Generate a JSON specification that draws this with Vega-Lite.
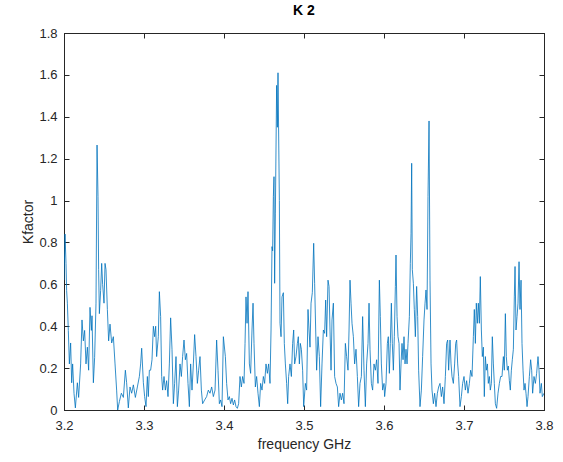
{
  "$schema": "https://vega.github.io/schema/vega-lite/v6.json",
  "width": 480,
  "height": 377,
  "autosize": {"type": "none"},
  "padding": {"left": 64, "top": 33, "right": 19, "bottom": 52},
  "background": "white",
  "title": {"text": "K 2", "fontSize": 14, "fontWeight": "bold", "font": "Liberation Sans", "color": "#000000", "offset": 9},
  "config": {
    "view": {"stroke": "#262626", "strokeWidth": 1},
    "axis": {"grid": false, "labelFlush": false, "labelOverlap": false, "labelFont": "Liberation Sans", "titleFont": "Liberation Sans", "labelFontSize": 13, "titleFontSize": 14, "titleFontWeight": "normal", "labelColor": "#262626", "titleColor": "#262626", "domainColor": "#262626", "tickColor": "#262626", "tickSize": -5}
  },
  "data": {"values": [
{"f":3.2000,"k":0.62},{"f":3.2013,"k":0.84},{"f":3.2025,"k":0.70},{"f":3.2033,"k":0.57},{"f":3.2042,"k":0.51},{"f":3.2054,"k":0.38},{"f":3.2067,"k":0.22},{"f":3.2083,"k":0.32},{"f":3.2096,"k":0.13},{"f":3.2108,"k":0.22},{"f":3.2125,"k":0.08},{"f":3.2142,"k":0.01},{"f":3.2167,"k":0.13},{"f":3.2183,"k":0.06},{"f":3.2208,"k":0.22},{"f":3.2225,"k":0.43},{"f":3.2242,"k":0.33},{"f":3.2258,"k":0.38},{"f":3.2275,"k":0.22},{"f":3.2292,"k":0.30},{"f":3.2308,"k":0.19},{"f":3.2325,"k":0.49},{"f":3.2342,"k":0.38},{"f":3.2350,"k":0.45},{"f":3.2367,"k":0.13},{"f":3.2383,"k":0.25},{"f":3.2400,"k":0.51},{"f":3.2413,"k":1.265},{"f":3.2425,"k":1.02},{"f":3.2433,"k":0.67},{"f":3.2442,"k":0.46},{"f":3.2458,"k":0.57},{"f":3.2471,"k":0.70},{"f":3.2483,"k":0.60},{"f":3.2500,"k":0.51},{"f":3.2513,"k":0.70},{"f":3.2525,"k":0.67},{"f":3.2542,"k":0.48},{"f":3.2558,"k":0.33},{"f":3.2575,"k":0.41},{"f":3.2596,"k":0.32},{"f":3.2617,"k":0.35},{"f":3.2638,"k":0.22},{"f":3.2658,"k":0.095},{"f":3.2671,"k":0.0},{"f":3.2692,"k":0.04},{"f":3.2717,"k":0.08},{"f":3.2742,"k":0.06},{"f":3.2767,"k":0.19},{"f":3.2783,"k":0.13},{"f":3.2804,"k":0.01},{"f":3.2825,"k":0.11},{"f":3.2846,"k":0.08},{"f":3.2867,"k":0.12},{"f":3.2892,"k":0.06},{"f":3.2917,"k":0.11},{"f":3.2942,"k":0.16},{"f":3.2958,"k":0.22},{"f":3.2971,"k":0.295},{"f":3.2992,"k":0.13},
{"f":3.3008,"k":0.064},{"f":3.3025,"k":0.016},{"f":3.3042,"k":0.16},{"f":3.3054,"k":0.064},{"f":3.3067,"k":0.19},{"f":3.3083,"k":0.19},{"f":3.3100,"k":0.24},{"f":3.3117,"k":0.40},{"f":3.3133,"k":0.35},{"f":3.3146,"k":0.40},{"f":3.3158,"k":0.255},{"f":3.3179,"k":0.35},{"f":3.3192,"k":0.565},{"f":3.3208,"k":0.446},{"f":3.3221,"k":0.16},{"f":3.3233,"k":0.095},{"f":3.3250,"k":0.16},{"f":3.3267,"k":0.095},{"f":3.3283,"k":0.14},{"f":3.3300,"k":0.064},{"f":3.3317,"k":0.22},{"f":3.3333,"k":0.44},{"f":3.3350,"k":0.29},{"f":3.3367,"k":0.03},{"f":3.3383,"k":0.127},{"f":3.3400,"k":0.255},{"f":3.3417,"k":0.016},{"f":3.3433,"k":0.095},{"f":3.3450,"k":0.22},{"f":3.3467,"k":0.16},{"f":3.3483,"k":0.255},{"f":3.3500,"k":0.334},{"f":3.3517,"k":0.24},{"f":3.3533,"k":0.27},{"f":3.3550,"k":0.127},{"f":3.3567,"k":0.016},{"f":3.3583,"k":0.22},{"f":3.3600,"k":0.095},{"f":3.3617,"k":0.22},{"f":3.3633,"k":0.36},{"f":3.3650,"k":0.255},{"f":3.3667,"k":0.127},{"f":3.3683,"k":0.19},{"f":3.3700,"k":0.255},{"f":3.3717,"k":0.095},{"f":3.3733,"k":0.03},{"f":3.3758,"k":0.048},{"f":3.3783,"k":0.064},{"f":3.3804,"k":0.095},{"f":3.3825,"k":0.08},{"f":3.3846,"k":0.11},{"f":3.3867,"k":0.064},{"f":3.3888,"k":0.095},{"f":3.3908,"k":0.334},{"f":3.3925,"k":0.19},{"f":3.3942,"k":0.03},{"f":3.3958,"k":0.048},{"f":3.3975,"k":0.016},{"f":3.3992,"k":0.35},
{"f":3.4017,"k":0.255},{"f":3.4033,"k":0.127},{"f":3.4050,"k":0.048},{"f":3.4067,"k":0.064},{"f":3.4083,"k":0.03},{"f":3.4100,"k":0.056},{"f":3.4117,"k":0.024},{"f":3.4133,"k":0.048},{"f":3.4150,"k":0.016},{"f":3.4167,"k":0.008},{"f":3.4183,"k":0.03},{"f":3.4200,"k":0.16},{"f":3.4217,"k":0.11},{"f":3.4233,"k":0.16},{"f":3.4250,"k":0.127},{"f":3.4263,"k":0.318},{"f":3.4275,"k":0.54},{"f":3.4288,"k":0.414},{"f":3.4300,"k":0.565},{"f":3.4317,"k":0.22},{"f":3.4333,"k":0.175},{"f":3.4350,"k":0.382},{"f":3.4363,"k":0.51},{"f":3.4375,"k":0.318},{"f":3.4392,"k":0.11},{"f":3.4408,"k":0.16},{"f":3.4425,"k":0.08},{"f":3.4442,"k":0.016},{"f":3.4458,"k":0.127},{"f":3.4475,"k":0.095},{"f":3.4492,"k":0.16},{"f":3.4508,"k":0.127},{"f":3.4525,"k":0.22},{"f":3.4542,"k":0.175},{"f":3.4558,"k":0.22},{"f":3.4575,"k":0.127},{"f":3.4588,"k":0.382},{"f":3.4600,"k":0.78},{"f":3.4608,"k":0.76},{"f":3.4617,"k":1.02},{"f":3.4625,"k":1.114},{"f":3.4633,"k":0.605},{"f":3.4642,"k":0.94},{"f":3.4658,"k":1.55},{"f":3.4667,"k":1.35},{"f":3.4675,"k":1.61},{"f":3.4692,"k":1.0},{"f":3.4700,"k":0.414},{"f":3.4713,"k":0.35},{"f":3.4725,"k":0.54},{"f":3.4742,"k":0.56},{"f":3.4754,"k":0.318},{"f":3.4767,"k":0.22},{"f":3.4783,"k":0.127},{"f":3.4796,"k":0.03},{"f":3.4808,"k":0.16},{"f":3.4825,"k":0.22},{"f":3.4842,"k":0.16},{"f":3.4858,"k":0.318},{"f":3.4871,"k":0.382},{"f":3.4883,"k":0.22},{"f":3.4900,"k":0.255},{"f":3.4917,"k":0.318},{"f":3.4929,"k":0.35},{"f":3.4942,"k":0.22},{"f":3.4954,"k":0.318},{"f":3.4967,"k":0.29},{"f":3.4983,"k":0.19},{"f":3.4996,"k":0.016},
{"f":3.5017,"k":0.127},{"f":3.5033,"k":0.095},{"f":3.5050,"k":0.48},{"f":3.5063,"k":0.382},{"f":3.5075,"k":0.30},{"f":3.5088,"k":0.51},{"f":3.5104,"k":0.56},{"f":3.5121,"k":0.796},{"f":3.5133,"k":0.605},{"f":3.5146,"k":0.382},{"f":3.5158,"k":0.19},{"f":3.5175,"k":0.35},{"f":3.5192,"k":0.255},{"f":3.5208,"k":0.016},{"f":3.5225,"k":0.22},{"f":3.5242,"k":0.382},{"f":3.5258,"k":0.366},{"f":3.5271,"k":0.525},{"f":3.5283,"k":0.35},{"f":3.5300,"k":0.62},{"f":3.5313,"k":0.59},{"f":3.5325,"k":0.382},{"f":3.5338,"k":0.19},{"f":3.5350,"k":0.43},{"f":3.5367,"k":0.51},{"f":3.5383,"k":0.16},{"f":3.5400,"k":0.127},{"f":3.5417,"k":0.11},{"f":3.5433,"k":0.016},{"f":3.5450,"k":0.08},{"f":3.5467,"k":0.048},{"f":3.5483,"k":0.08},{"f":3.5500,"k":0.03},{"f":3.5517,"k":0.318},{"f":3.5533,"k":0.255},{"f":3.5550,"k":0.19},{"f":3.5563,"k":0.382},{"f":3.5575,"k":0.62},{"f":3.5588,"k":0.51},{"f":3.5600,"k":0.414},{"f":3.5617,"k":0.35},{"f":3.5633,"k":0.22},{"f":3.5650,"k":0.29},{"f":3.5667,"k":0.16},{"f":3.5683,"k":0.016},{"f":3.5700,"k":0.127},{"f":3.5717,"k":0.16},{"f":3.5733,"k":0.446},{"f":3.5750,"k":0.19},{"f":3.5767,"k":0.016},{"f":3.5783,"k":0.22},{"f":3.5800,"k":0.318},{"f":3.5813,"k":0.51},{"f":3.5825,"k":0.29},{"f":3.5842,"k":0.127},{"f":3.5858,"k":0.095},{"f":3.5875,"k":0.22},{"f":3.5892,"k":0.19},{"f":3.5908,"k":0.24},{"f":3.5925,"k":0.127},{"f":3.5942,"k":0.62},{"f":3.5954,"k":0.446},{"f":3.5967,"k":0.22},{"f":3.5983,"k":0.095},{"f":3.6000,"k":0.127},
{"f":3.6008,"k":0.064},{"f":3.6025,"k":0.127},{"f":3.6042,"k":0.318},{"f":3.6054,"k":0.35},{"f":3.6067,"k":0.175},{"f":3.6079,"k":0.318},{"f":3.6092,"k":0.51},{"f":3.6104,"k":0.318},{"f":3.6117,"k":0.19},{"f":3.6129,"k":0.35},{"f":3.6142,"k":0.59},{"f":3.6150,"k":0.74},{"f":3.6163,"k":0.446},{"f":3.6175,"k":0.35},{"f":3.6188,"k":0.318},{"f":3.6200,"k":0.095},{"f":3.6213,"k":0.22},{"f":3.6225,"k":0.318},{"f":3.6238,"k":0.24},{"f":3.6250,"k":0.35},{"f":3.6263,"k":0.22},{"f":3.6275,"k":0.29},{"f":3.6288,"k":0.22},{"f":3.6300,"k":0.318},{"f":3.6317,"k":0.446},{"f":3.6329,"k":0.70},{"f":3.6338,"k":0.844},{"f":3.6346,"k":1.178},{"f":3.6354,"k":0.67},{"f":3.6367,"k":0.605},{"f":3.6379,"k":0.48},{"f":3.6392,"k":0.35},{"f":3.6408,"k":0.59},{"f":3.6421,"k":0.446},{"f":3.6433,"k":0.19},{"f":3.6450,"k":0.016},{"f":3.6467,"k":0.095},{"f":3.6483,"k":0.255},{"f":3.6500,"k":0.43},{"f":3.6513,"k":0.51},{"f":3.6525,"k":0.573},{"f":3.6538,"k":0.48},{"f":3.6550,"k":1.02},{"f":3.6563,"k":1.38},{"f":3.6575,"k":0.62},{"f":3.6588,"k":0.22},{"f":3.6600,"k":0.095},{"f":3.6617,"k":0.03},{"f":3.6633,"k":0.08},{"f":3.6650,"k":0.016},{"f":3.6667,"k":0.08},{"f":3.6683,"k":0.11},{"f":3.6700,"k":0.127},{"f":3.6717,"k":0.064},{"f":3.6733,"k":0.11},{"f":3.6750,"k":0.03},{"f":3.6767,"k":0.16},{"f":3.6783,"k":0.318},{"f":3.6796,"k":0.334},{"f":3.6808,"k":0.19},{"f":3.6825,"k":0.334},{"f":3.6838,"k":0.22},{"f":3.6850,"k":0.16},{"f":3.6867,"k":0.127},{"f":3.6883,"k":0.22},{"f":3.6896,"k":0.318},{"f":3.6908,"k":0.334},{"f":3.6921,"k":0.22},{"f":3.6933,"k":0.16},{"f":3.6950,"k":0.016},{"f":3.6967,"k":0.064},{"f":3.6983,"k":0.127},{"f":3.7000,"k":0.16},
{"f":3.7017,"k":0.095},{"f":3.7033,"k":0.14},{"f":3.7050,"k":0.08},{"f":3.7067,"k":0.127},{"f":3.7083,"k":0.19},{"f":3.7100,"k":0.16},{"f":3.7117,"k":0.35},{"f":3.7129,"k":0.48},{"f":3.7142,"k":0.318},{"f":3.7154,"k":0.51},{"f":3.7167,"k":0.414},{"f":3.7179,"k":0.51},{"f":3.7192,"k":0.414},{"f":3.7204,"k":0.637},{"f":3.7217,"k":0.382},{"f":3.7229,"k":0.255},{"f":3.7242,"k":0.30},{"f":3.7254,"k":0.064},{"f":3.7267,"k":0.255},{"f":3.7279,"k":0.19},{"f":3.7292,"k":0.22},{"f":3.7304,"k":0.127},{"f":3.7317,"k":0.16},{"f":3.7329,"k":0.095},{"f":3.7342,"k":0.127},{"f":3.7354,"k":0.35},{"f":3.7367,"k":0.22},{"f":3.7379,"k":0.127},{"f":3.7392,"k":0.03},{"f":3.7408,"k":0.008},{"f":3.7425,"k":0.08},{"f":3.7442,"k":0.127},{"f":3.7458,"k":0.16},{"f":3.7475,"k":0.16},{"f":3.7492,"k":0.255},{"f":3.7504,"k":0.19},{"f":3.7517,"k":0.46},{"f":3.7529,"k":0.255},{"f":3.7542,"k":0.19},{"f":3.7554,"k":0.21},{"f":3.7567,"k":0.14},{"f":3.7579,"k":0.095},{"f":3.7592,"k":0.19},{"f":3.7604,"k":0.24},{"f":3.7617,"k":0.29},{"f":3.7629,"k":0.54},{"f":3.7638,"k":0.685},{"f":3.7650,"k":0.382},{"f":3.7663,"k":0.446},{"f":3.7675,"k":0.51},{"f":3.7688,"k":0.708},{"f":3.7700,"k":0.48},{"f":3.7713,"k":0.62},{"f":3.7725,"k":0.318},{"f":3.7738,"k":0.19},{"f":3.7750,"k":0.095},{"f":3.7763,"k":0.127},{"f":3.7775,"k":0.08},{"f":3.7788,"k":0.016},{"f":3.7800,"k":0.064},{"f":3.7817,"k":0.16},{"f":3.7833,"k":0.24},{"f":3.7846,"k":0.19},{"f":3.7858,"k":0.08},{"f":3.7875,"k":0.16},{"f":3.7892,"k":0.127},{"f":3.7908,"k":0.175},{"f":3.7925,"k":0.255},{"f":3.7938,"k":0.19},{"f":3.7950,"k":0.08},{"f":3.7967,"k":0.127},{"f":3.7979,"k":0.064},{"f":3.8000,"k":0.08}
  ]},
  "layer": [
    {
      "mark": {"type": "line", "color": "#0072BD", "strokeWidth": 0.8, "clip": true},
      "encoding": {
        "x": {"field": "f", "type": "quantitative", "scale": {"domain": [3.2, 3.8], "nice": false, "zero": false},
              "axis": {"title": "frequency GHz", "values": [3.2, 3.3, 3.4, 3.5, 3.6, 3.7, 3.8], "format": ".1f", "labelPadding": 14, "titlePadding": 5}},
        "y": {"field": "k", "type": "quantitative", "scale": {"domain": [0, 1.8], "nice": false},
              "axis": {"title": "Kfactor", "values": [0, 0.2, 0.4, 0.6, 0.8, 1, 1.2, 1.4, 1.6, 1.8], "format": ".1~f", "labelPadding": 12, "titlePadding": 3}}
      }
    },
    {
      "mark": {"type": "line", "opacity": 0},
      "encoding": {
        "x": {"field": "f", "type": "quantitative", "axis": {"orient": "top", "title": null, "labels": false, "values": [3.2, 3.3, 3.4, 3.5, 3.6, 3.7, 3.8]}},
        "y": {"field": "k", "type": "quantitative", "axis": {"orient": "right", "title": null, "labels": false, "values": [0, 0.2, 0.4, 0.6, 0.8, 1, 1.2, 1.4, 1.6, 1.8]}}
      }
    }
  ],
  "resolve": {"axis": {"x": "independent", "y": "independent"}}
}
